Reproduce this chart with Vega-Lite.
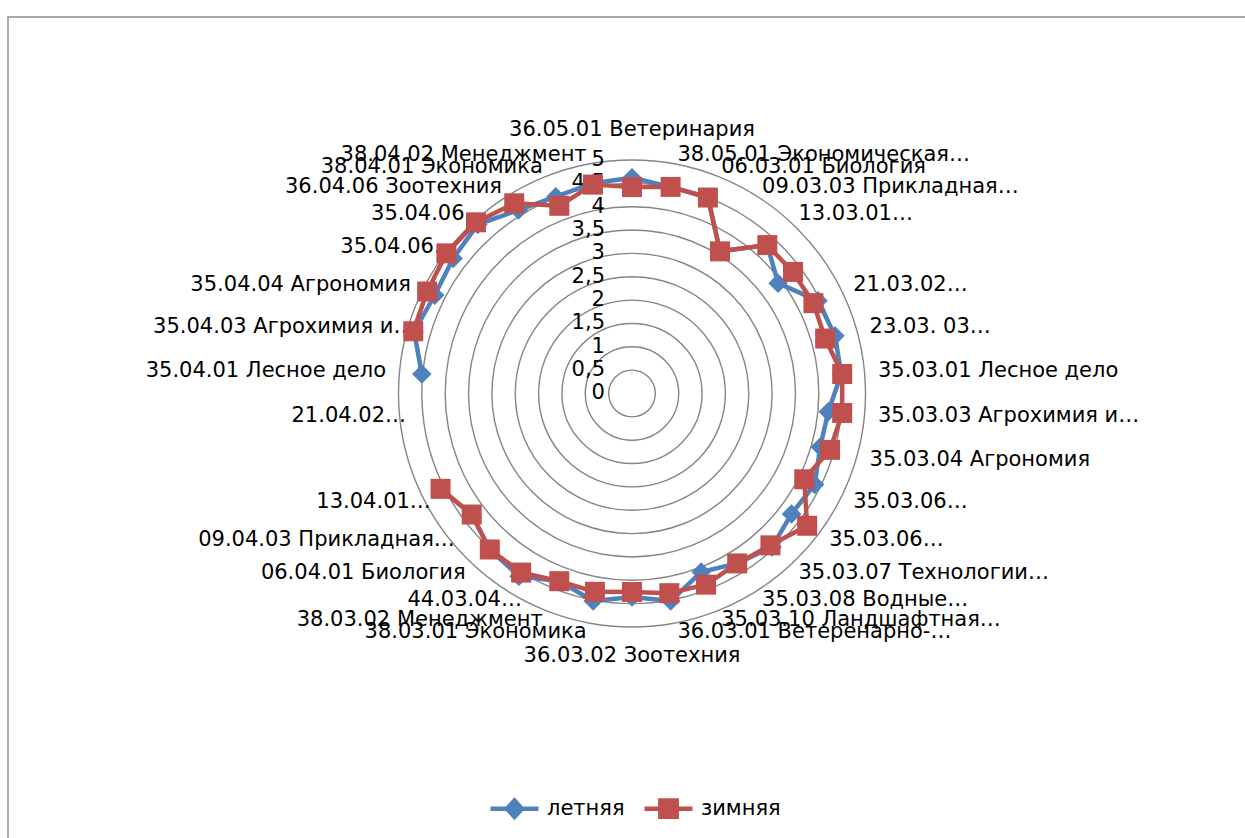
{
  "$schema": "https://vega.github.io/schema/vega-lite/v6.json",
  "width": 1250,
  "height": 830,
  "autosize": {"type": "none"},
  "padding": {"left": 8, "top": 17, "right": -13, "bottom": -9},
  "background": "white",
  "view": {"stroke": "#8c8c8c", "strokeWidth": 1.5},
  "config": {"font": "DejaVu Sans"},
  "datasets": {
    "grid": [
      {"r": 0, "label": "0"}, {"r": 0.5, "label": "0,5"}, {"r": 1, "label": "1"},
      {"r": 1.5, "label": "1,5"}, {"r": 2, "label": "2"}, {"r": 2.5, "label": "2,5"},
      {"r": 3, "label": "3"}, {"r": 3.5, "label": "3,5"}, {"r": 4, "label": "4"},
      {"r": 4.5, "label": "4,5"}, {"r": 5, "label": "5"}
    ],
    "cats": [
      {"idx": 0, "cat": "36.05.01 Ветеринария"},
      {"idx": 1, "cat": "38.05.01 Экономическая…"},
      {"idx": 2, "cat": "06.03.01 Биология"},
      {"idx": 3, "cat": "09.03.03 Прикладная…"},
      {"idx": 4, "cat": "13.03.01…"},
      {"idx": 5, "cat": ""},
      {"idx": 6, "cat": "21.03.02…"},
      {"idx": 7, "cat": "23.03. 03…"},
      {"idx": 8, "cat": "35.03.01 Лесное дело"},
      {"idx": 9, "cat": "35.03.03 Агрохимия и…"},
      {"idx": 10, "cat": "35.03.04 Агрономия"},
      {"idx": 11, "cat": "35.03.06…"},
      {"idx": 12, "cat": "35.03.06…"},
      {"idx": 13, "cat": "35.03.07  Технологии…"},
      {"idx": 14, "cat": "35.03.08 Водные…"},
      {"idx": 15, "cat": "35.03.10 Ландшафтная…"},
      {"idx": 16, "cat": "36.03.01 Ветеренарно-…"},
      {"idx": 17, "cat": "36.03.02 Зоотехния"},
      {"idx": 18, "cat": "38.03.01 Экономика"},
      {"idx": 19, "cat": "38.03.02 Менеджмент"},
      {"idx": 20, "cat": "44.03.04…"},
      {"idx": 21, "cat": "06.04.01 Биология"},
      {"idx": 22, "cat": "09.04.03 Прикладная…"},
      {"idx": 23, "cat": "13.04.01…"},
      {"idx": 24, "cat": ""},
      {"idx": 25, "cat": "21.04.02…"},
      {"idx": 26, "cat": "35.04.01 Лесное дело"},
      {"idx": 27, "cat": "35.04.03 Агрохимия и…"},
      {"idx": 28, "cat": "35.04.04 Агрономия"},
      {"idx": 29, "cat": "35.04.06…"},
      {"idx": 30, "cat": "35.04.06…"},
      {"idx": 31, "cat": "36.04.06 Зоотехния"},
      {"idx": 32, "cat": "38.04.01 Экономика"},
      {"idx": 33, "cat": "38.04.02 Менеджмент"}
    ],
    "vals": [
      {"idx": 0, "season": "летняя", "v": 4.62},
      {"idx": 1, "season": "летняя", "v": 4.5},
      {"idx": 2, "season": "летняя", "v": 4.5},
      {"idx": 3, "season": "летняя", "v": 3.58},
      {"idx": 4, "season": "летняя", "v": 4.3},
      {"idx": 5, "season": "летняя", "v": 3.92},
      {"idx": 6, "season": "летняя", "v": 4.45},
      {"idx": 7, "season": "летняя", "v": 4.52},
      {"idx": 8, "season": "летняя", "v": 4.5},
      {"idx": 9, "season": "летняя", "v": 4.22},
      {"idx": 10, "season": "летняя", "v": 4.19},
      {"idx": 11, "season": "летняя", "v": 4.37},
      {"idx": 12, "season": "летняя", "v": 4.28},
      {"idx": 13, "season": "летняя", "v": 4.45},
      {"idx": 14, "season": "летняя", "v": 4.28},
      {"idx": 15, "season": "летняя", "v": 4.1},
      {"idx": 16, "season": "летняя", "v": 4.52},
      {"idx": 17, "season": "летняя", "v": 4.36},
      {"idx": 18, "season": "летняя", "v": 4.52},
      {"idx": 19, "season": "летняя", "v": 4.31},
      {"idx": 20, "season": "летняя", "v": 4.6},
      {"idx": 21, "season": "летняя", "v": 4.52},
      {"idx": 22, "season": "летняя", "v": 4.3},
      {"idx": 23, "season": "летняя", "v": 4.58},
      {"idx": 24, "season": "летняя", "v": null},
      {"idx": 25, "season": "летняя", "v": null},
      {"idx": 26, "season": "летняя", "v": 4.52},
      {"idx": 27, "season": "летняя", "v": 4.85},
      {"idx": 28, "season": "летняя", "v": 4.72},
      {"idx": 29, "season": "летняя", "v": 4.8},
      {"idx": 30, "season": "летняя", "v": 4.9},
      {"idx": 31, "season": "летняя", "v": 4.62},
      {"idx": 32, "season": "летняя", "v": 4.52},
      {"idx": 33, "season": "летняя", "v": 4.58},
      {"idx": 0, "season": "зимняя", "v": 4.42},
      {"idx": 1, "season": "зимняя", "v": 4.5},
      {"idx": 2, "season": "зимняя", "v": 4.5},
      {"idx": 3, "season": "зимняя", "v": 3.58},
      {"idx": 4, "season": "зимняя", "v": 4.3},
      {"idx": 5, "season": "зимняя", "v": 4.32},
      {"idx": 6, "season": "зимняя", "v": 4.34},
      {"idx": 7, "season": "зимняя", "v": 4.3},
      {"idx": 8, "season": "зимняя", "v": 4.52},
      {"idx": 9, "season": "зимняя", "v": 4.52},
      {"idx": 10, "season": "зимняя", "v": 4.41},
      {"idx": 11, "season": "зимняя", "v": 4.12},
      {"idx": 12, "season": "зимняя", "v": 4.7},
      {"idx": 13, "season": "зимняя", "v": 4.4},
      {"idx": 14, "season": "зимняя", "v": 4.28},
      {"idx": 15, "season": "зимняя", "v": 4.39},
      {"idx": 16, "season": "зимняя", "v": 4.35},
      {"idx": 17, "season": "зимняя", "v": 4.25},
      {"idx": 18, "season": "зимняя", "v": 4.32},
      {"idx": 19, "season": "зимняя", "v": 4.31},
      {"idx": 20, "season": "зимняя", "v": 4.51},
      {"idx": 21, "season": "зимняя", "v": 4.52},
      {"idx": 22, "season": "зимняя", "v": 4.3},
      {"idx": 23, "season": "зимняя", "v": 4.58},
      {"idx": 24, "season": "зимняя", "v": null},
      {"idx": 25, "season": "зимняя", "v": null},
      {"idx": 26, "season": "зимняя", "v": null},
      {"idx": 27, "season": "зимняя", "v": 4.87},
      {"idx": 28, "season": "зимняя", "v": 4.9},
      {"idx": 29, "season": "зимняя", "v": 4.98},
      {"idx": 30, "season": "зимняя", "v": 4.96},
      {"idx": 31, "season": "зимняя", "v": 4.79},
      {"idx": 32, "season": "зимняя", "v": 4.31},
      {"idx": 33, "season": "зимняя", "v": 4.55}
    ]
  },
  "layer": [
    {
      "data": {"name": "grid"},
      "transform": [
        {"calculate": "0", "as": "x"},
        {"calculate": "0", "as": "y"},
        {"calculate": "datum.r", "as": "ly"},
        {"calculate": "pow(2 * datum.r * 46.7, 2)", "as": "sz"}
      ],
      "layer": [
        {
          "transform": [{"filter": "datum.r > 0"}],
          "mark": {"type": "point", "shape": "circle", "filled": false, "color": "#858585", "strokeWidth": 1.4, "opacity": 1},
          "encoding": {
            "x": {"field": "x", "type": "quantitative", "scale": {"domain": [-13.362, 13.405], "nice": false, "zero": false}, "axis": null},
            "y": {"field": "y", "type": "quantitative", "scale": {"domain": [-9.711, 8.062], "nice": false, "zero": false}, "axis": null},
            "size": {"field": "sz", "type": "quantitative", "scale": null, "legend": null}
          }
        },
        {
          "mark": {"type": "text", "align": "right", "baseline": "middle", "dx": -27, "fontSize": 21, "color": "#000000"},
          "encoding": {
            "x": {"field": "x", "type": "quantitative", "scale": {"domain": [-13.362, 13.405], "nice": false, "zero": false}, "axis": null},
            "y": {"field": "ly", "type": "quantitative", "scale": {"domain": [-9.711, 8.062], "nice": false, "zero": false}, "axis": null},
            "text": {"field": "label", "type": "nominal"}
          }
        }
      ]
    },
    {
      "data": {"name": "cats"},
      "transform": [
        {"filter": "datum.cat != ''"},
        {"calculate": "datum.idx * 2 * PI / 34", "as": "theta"},
        {"calculate": "5.29 * sin(datum.theta)", "as": "x"},
        {"calculate": "datum.idx == 0 ? 5.64 : (datum.idx == 17 ? -5.62 : 5.203 * cos(datum.theta))", "as": "y"}
      ],
      "encoding": {
        "x": {"field": "x", "type": "quantitative", "scale": {"domain": [-13.362, 13.405], "nice": false, "zero": false}, "axis": null},
        "y": {"field": "y", "type": "quantitative", "scale": {"domain": [-9.711, 8.062], "nice": false, "zero": false}, "axis": null},
        "text": {"field": "cat", "type": "nominal"}
      },
      "layer": [
        {
          "transform": [{"filter": "datum.idx > 0 && datum.idx < 17"}],
          "mark": {"type": "text", "align": "left", "baseline": "middle", "fontSize": 21, "color": "#000000"}
        },
        {
          "transform": [{"filter": "datum.idx > 17 && indexof(datum.cat, '…') < 0"}],
          "mark": {"type": "text", "align": "right", "baseline": "middle", "fontSize": 21, "color": "#000000"}
        },
        {
          "transform": [{"filter": "datum.idx > 17 && indexof(datum.cat, '…') >= 0"}],
          "mark": {"type": "text", "align": "right", "baseline": "middle", "dx": 20, "fontSize": 21, "color": "#000000"}
        },
        {
          "transform": [{"filter": "datum.idx == 0 || datum.idx == 17"}],
          "mark": {"type": "text", "align": "center", "baseline": "middle", "fontSize": 21, "color": "#000000"}
        }
      ]
    },
    {
      "data": {"name": "vals"},
      "transform": [
        {"filter": "isValid(datum.v)"},
        {"calculate": "datum.idx * 2 * PI / 34", "as": "theta"},
        {"calculate": "datum.v * sin(datum.theta)", "as": "x"},
        {"calculate": "datum.v * cos(datum.theta)", "as": "y"},
        {"calculate": "(datum.idx + 8) % 34", "as": "ord"}
      ],
      "encoding": {
        "x": {"field": "x", "type": "quantitative", "scale": {"domain": [-13.362, 13.405], "nice": false, "zero": false}, "axis": null},
        "y": {"field": "y", "type": "quantitative", "scale": {"domain": [-9.711, 8.062], "nice": false, "zero": false}, "axis": null},
        "order": {"field": "ord", "type": "quantitative"},
        "color": {
          "field": "season",
          "type": "nominal",
          "scale": {"domain": ["летняя", "зимняя"], "range": ["#4F81BD", "#C0504D"]},
          "legend": {
            "title": null,
            "orient": "none",
            "legendX": 480,
            "legendY": 765,
            "direction": "horizontal",
            "padding": 0,
            "symbolSize": 2304,
            "labelFont": "DejaVu Sans",
            "labelFontSize": 21,
            "labelColor": "#000000",
            "labelOffset": 6,
            "columnPadding": 10,
            "encode": {
              "symbols": {
                "update": {
                  "shape": {"signal": "datum.value == 'летняя' ? 'M-1,0L1,0M0,-0.34L0.31,0L0,0.34L-0.31,0Z' : 'M-1,0L1,0M-0.34,-0.34L0.34,-0.34L0.34,0.34L-0.34,0.34Z'"},
                  "fill": {"signal": "datum.value == 'летняя' ? '#4F81BD' : '#C0504D'"},
                  "stroke": {"signal": "datum.value == 'летняя' ? '#4F81BD' : '#C0504D'"},
                  "strokeWidth": {"value": 4.5},
                  "opacity": {"value": 1},
                  "fillOpacity": {"value": 1},
                  "strokeOpacity": {"value": 1}
                }
              }
            }
          }
        }
      },
      "layer": [
        {
          "transform": [{"filter": "datum.season == 'летняя'"}],
          "mark": {"type": "line", "strokeWidth": 4.5, "strokeJoin": "round", "strokeCap": "round"}
        },
        {
          "transform": [{"filter": "datum.season == 'летняя'"}],
          "mark": {"type": "point", "shape": "diamond", "filled": true, "size": 380, "opacity": 1}
        },
        {
          "transform": [{"filter": "datum.season == 'зимняя'"}],
          "mark": {"type": "line", "strokeWidth": 4.5, "strokeJoin": "round", "strokeCap": "round"}
        },
        {
          "transform": [{"filter": "datum.season == 'зимняя'"}],
          "mark": {"type": "point", "shape": "square", "filled": true, "size": 400, "opacity": 1}
        }
      ]
    }
  ]
}
